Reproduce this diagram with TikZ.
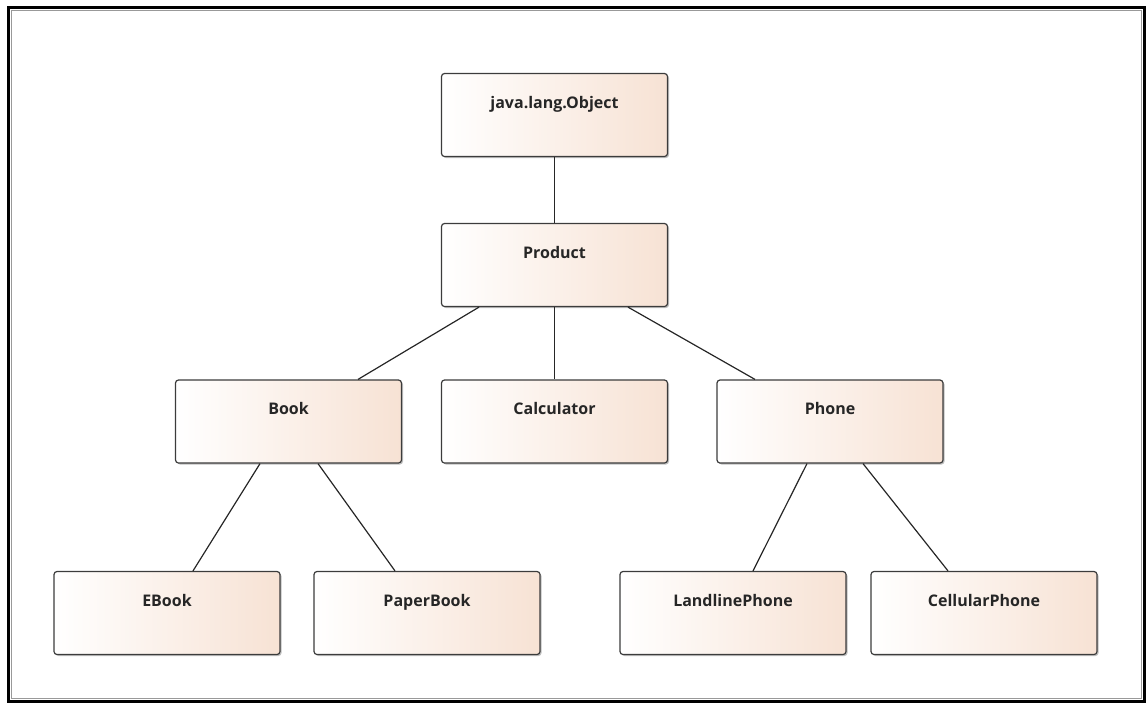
\documentclass[tikz,border=0pt]{standalone}
\usepackage{fontspec}
\setmainfont{Open Sans}
\usetikzlibrary{shadows}
\definecolor{peach}{RGB}{247,226,212}
\definecolor{edge}{RGB}{60,60,60}
\tikzset{
  cls/.style={draw=edge, line width=1.2pt, rounded corners=3pt,
    left color=white, right color=peach,
    minimum width=226pt, inner xsep=0pt, inner ysep=0pt,
    text height=34.5pt, text depth=48.5pt,
    font=\bfseries\fontsize{16}{18}\selectfont, text=black!85,
    drop shadow={shadow xshift=1.5pt, shadow yshift=-1.5pt, fill=black, opacity=0.25}},
  link/.style={draw=black!85, line width=1.2pt}
}
\begin{document}
\begin{tikzpicture}[x=1pt,y=-1pt]
\useasboundingbox (0,0) rectangle (1147,705);
\draw[line width=3.5pt, black] (8.5,7.5) rectangle (1144.5,701.5);
\draw[line width=0.8pt, black!40] (11.5,10.5) rectangle (1141.5,698.5);
\node[cls] (obj) at (554.5,115) {java.lang.Object};
\node[cls] (prod) at (554.5,265) {Product};
\node[cls] (book) at (288.5,421.5) {Book};
\node[cls] (calc) at (554.5,421.5) {Calculator};
\node[cls] (phone) at (830,421.5) {Phone};
\node[cls] (ebook) at (167,613) {EBook};
\node[cls] (paper) at (427,613) {PaperBook};
\node[cls] (land) at (733,613) {LandlinePhone};
\node[cls] (cell) at (984,613) {CellularPhone};
\path[link] (obj.south) -- (prod.north);
\path[link] (prod.south) -- (calc.north);
\path[link] ([xshift=-75.5pt]prod.south) -- ([xshift=69.5pt]book.north);
\path[link] ([xshift=73.5pt]prod.south) -- ([xshift=-75pt]phone.north);
\path[link] ([xshift=-28.5pt]book.south) -- ([xshift=26pt]ebook.north);
\path[link] ([xshift=29.5pt]book.south) -- ([xshift=-32pt]paper.north);
\path[link] ([xshift=-23pt]phone.south) -- ([xshift=20pt]land.north);
\path[link] ([xshift=33pt]phone.south) -- ([xshift=-36pt]cell.north);
\end{tikzpicture}
\end{document}
